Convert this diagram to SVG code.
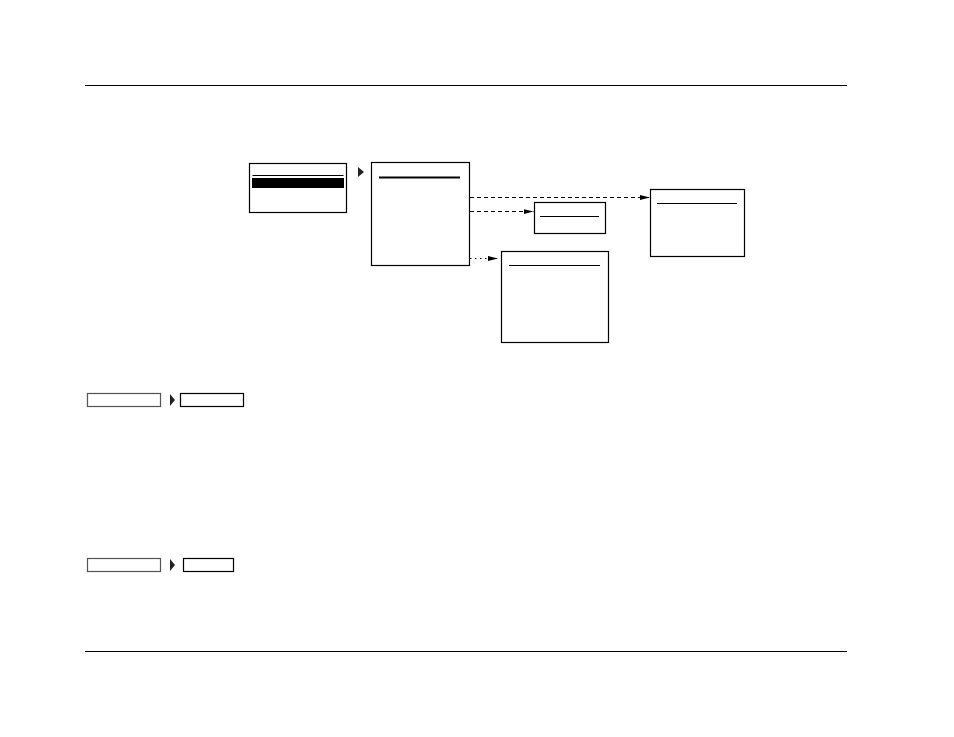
<svg xmlns="http://www.w3.org/2000/svg" width="954" height="737" viewBox="0 0 954 737">
<defs>
<style>
.box{fill:#fff;stroke:#000;stroke-width:1.2}
.gbox{fill:#fff;stroke:#555;stroke-width:1.2}
.ln{stroke:#000;stroke-width:1.2}
.conn{fill:none;stroke:#000;stroke-width:1.1}
.dash{stroke-dasharray:4 3}
.dot{stroke-dasharray:1.5 3.5}
.tri{fill:#222}
</style>
<marker id="ah" markerWidth="10" markerHeight="6" refX="10" refY="3" orient="auto" markerUnits="userSpaceOnUse">
<path d="M0,0.5 L10,3 L0,5.5 Z" fill="#000"/>
</marker>
</defs>
<rect width="954" height="737" fill="#fff"/>
<line x1="85" y1="85.5" x2="847" y2="85.5" stroke="#000" stroke-width="1"/>
<line x1="85" y1="651.5" x2="847" y2="651.5" stroke="#000" stroke-width="1"/>

<g id="menu1">
<rect class="box" x="249.5" y="163.5" width="97" height="49"/>
<line class="ln" x1="252.5" y1="175.5" x2="343.5" y2="175.5"/>
<rect x="252" y="178" width="92" height="10" fill="#000"/>
</g>
<polygon class="tri" points="358,167 364,172 358,177"/>
<g id="menu2">
<rect class="box" x="371.5" y="162.5" width="98" height="103"/>
<line x1="379" y1="177.5" x2="460" y2="177.5" stroke="#000" stroke-width="2.2"/>
</g>
<g id="menu3">
<rect class="box" x="650.5" y="189.5" width="94" height="67"/>
<line class="ln" x1="657" y1="203.5" x2="737" y2="203.5"/>
</g>
<g id="menu4">
<rect class="box" x="534.5" y="202.5" width="71" height="31"/>
<line class="ln" x1="540" y1="216.5" x2="599" y2="216.5"/>
</g>
<g id="menu5">
<rect class="box" x="501.5" y="251.5" width="107" height="91"/>
<line class="ln" x1="509" y1="265.5" x2="600" y2="265.5"/>
</g>
<g id="connectors">
<line class="conn dash" x1="470" y1="197.5" x2="650" y2="197.5" marker-end="url(#ah)"/>
<line class="conn dash" x1="470" y1="211.5" x2="533.5" y2="211.5" marker-end="url(#ah)"/>
<line class="conn dot" x1="470" y1="258.5" x2="498" y2="258.5" marker-end="url(#ah)"/>
</g>

<g id="path1">
<rect class="gbox" x="87.5" y="393.5" width="73" height="13"/>
<polygon class="tri" points="170,394 175,400 170,406"/>
<rect class="box" x="180.5" y="393.5" width="63" height="13"/>
</g>
<g id="path2">
<rect class="gbox" x="87.5" y="558.5" width="73" height="13"/>
<polygon class="tri" points="170,559 175,565 170,571"/>
<rect class="box" x="183.5" y="558.5" width="50" height="13"/>
</g>
</svg>
